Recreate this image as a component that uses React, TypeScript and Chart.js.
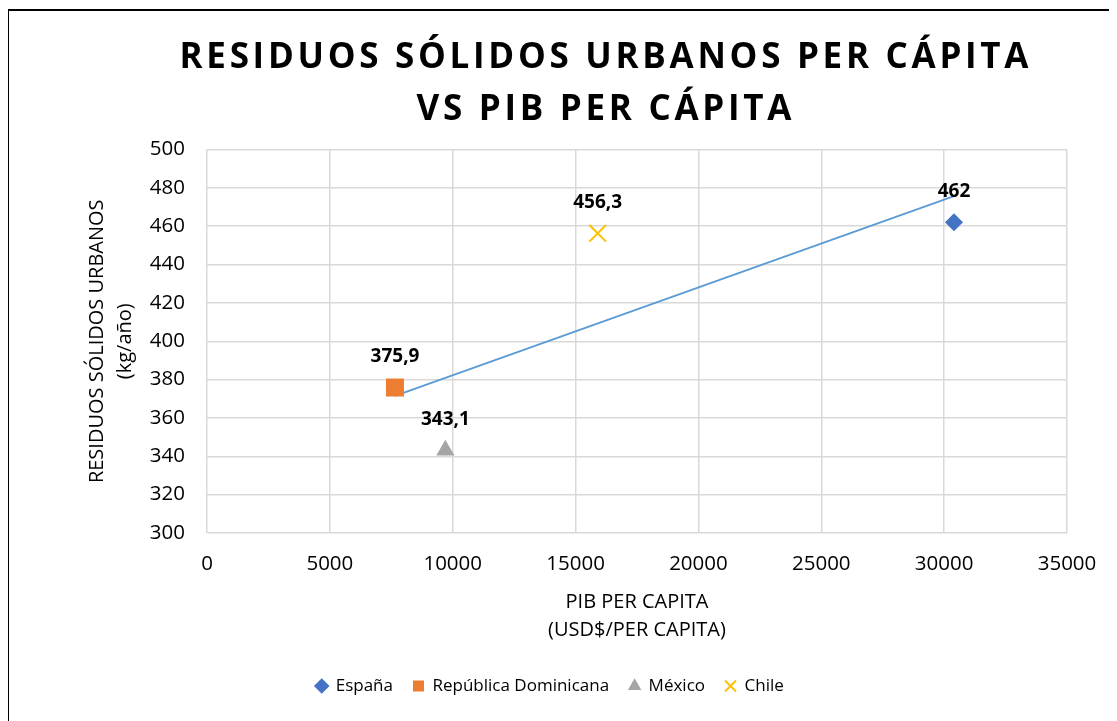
import React, { useEffect, useRef } from "react";
import { Chart, registerables } from "chart.js";

Chart.register(...registerables);

// ---- data ----
const countries = ["España", "República Dominicana", "México", "Chile"];
const pibPerCapita = [30400, 7650, 9700, 15900];
const residuosPerCapita = [462, 375.9, 343.1, 456.3];
const seriesColors = ["#4472C4", "#ED7D31", "#A5A5A5", "#FFC000"];
const seriesPointStyles = ["rectRot", "rect", "triangle", "crossRot"];
const seriesPointRadii = [9, 12.7, 10.5, 11.8];

const xTicks = [0, 5000, 10000, 15000, 20000, 25000, 30000, 35000];
const yTicks = [300, 320, 340, 360, 380, 400, 420, 440, 460, 480, 500];

const titleLines = ["RESIDUOS SÓLIDOS URBANOS PER CÁPITA", "VS PIB PER CÁPITA"];
const xAxisTitle = ["PIB PER CAPITA", "(USD$/PER CAPITA)"];
const yAxisTitle = ["RESIDUOS SÓLIDOS URBANOS", "(kg/año)"];

const FONT = "'Open Sans', 'Liberation Sans', sans-serif";

function linearFit(xs: number[], ys: number[]) {
  const n = xs.length;
  const mx = xs.reduce((a, b) => a + b, 0) / n;
  const my = ys.reduce((a, b) => a + b, 0) / n;
  let sxy = 0;
  let sxx = 0;
  for (let i = 0; i < n; i++) {
    sxy += (xs[i] - mx) * (ys[i] - my);
    sxx += (xs[i] - mx) * (xs[i] - mx);
  }
  const slope = sxy / sxx;
  return { slope, intercept: my - slope * mx };
}

const fmt = (v: number) => String(v).replace(".", ",");

const titlePlugin = {
  id: "customTitle",
  afterDraw(chart: any) {
    const ctx = chart.ctx as CanvasRenderingContext2D;
    ctx.save();
    ctx.font = `bold 35px ${FONT}`;
    ctx.fillStyle = "#000";
    ctx.textBaseline = "alphabetic";
    ctx.textAlign = "left";
    (ctx as any).letterSpacing = "0px";
    const targetWidth = 849;
    const centerX = 595;
    const baselines = [57, 109];
    const w0 = ctx.measureText(titleLines[0]).width;
    const n0 = Array.from(titleLines[0]).length;
    const spacing = (targetWidth - w0) / (n0 - 1);
    const widths = titleLines.map(
      (l) => ctx.measureText(l).width + spacing * (Array.from(l).length - 1)
    );
    (ctx as any).letterSpacing = spacing + "px";
    titleLines.forEach((line, i) => {
      ctx.fillText(line, centerX - widths[i] / 2, baselines[i]);
    });
    ctx.restore();
  },
};

const dataLabelPlugin = {
  id: "dataLabels",
  afterDatasetsDraw(chart: any) {
    const ctx = chart.ctx as CanvasRenderingContext2D;
    ctx.save();
    ctx.font = `bold 19px ${FONT}`;
    ctx.fillStyle = "#000";
    ctx.textAlign = "center";
    ctx.textBaseline = "middle";
    countries.forEach((_, i) => {
      const meta = chart.getDatasetMeta(i);
      meta.data.forEach((el: any, j: number) => {
        const v = chart.data.datasets[i].data[j].y;
        ctx.fillText(fmt(v), el.x, el.y - 31);
      });
    });
    ctx.restore();
  },
};

export default function App() {
  const ref = useRef<HTMLCanvasElement | null>(null);

  useEffect(() => {
    document.body.style.overflow = "hidden";
    document.documentElement.style.overflow = "hidden";
    if (!ref.current) return;

    const fit = linearFit(pibPerCapita, residuosPerCapita);
    const minX = Math.min(...pibPerCapita);
    const maxX = Math.max(...pibPerCapita);

    const scatterSets = countries.map((c, i) => ({
      type: "scatter" as const,
      label: c,
      data: [{ x: pibPerCapita[i], y: residuosPerCapita[i] }],
      pointStyle: seriesPointStyles[i] as any,
      pointRadius: seriesPointRadii[i],
      pointHoverRadius: seriesPointRadii[i],
      backgroundColor: seriesColors[i],
      borderColor: seriesColors[i],
      borderWidth: seriesPointStyles[i] === "crossRot" ? 2 : 0,
    }));

    const trendSet = {
      type: "scatter" as const,
      label: "Lineal",
      data: [
        { x: minX, y: fit.intercept + fit.slope * minX },
        { x: maxX, y: fit.intercept + fit.slope * maxX },
      ],
      showLine: true,
      pointRadius: 0,
      borderColor: "#5B9BD5",
      backgroundColor: "#5B9BD5",
      borderWidth: 1.75,
    };

    const chart = new Chart(ref.current, {
      type: "scatter",
      data: { datasets: [...scatterSets, trendSet] as any },
      plugins: [titlePlugin, dataLabelPlugin],
      options: {
        responsive: false,
        animation: false,
        devicePixelRatio: 1,
        layout: { padding: { top: 138.5, right: 62, bottom: 18.5, left: 24 } },
        plugins: {
          title: { display: false },
          tooltip: { enabled: false },
          legend: {
            position: "bottom",
            labels: {
              usePointStyle: true,
              boxWidth: 11,
              boxHeight: 11,
              padding: 20,
              color: "#000",
              font: { family: FONT, size: 17 },
              filter: (item: any) => item.datasetIndex < countries.length,
            },
          },
        },
        scales: {
          x: {
            type: "linear",
            min: xTicks[0],
            max: xTicks[xTicks.length - 1],
            afterFit: (s: any) => {
              s.height = 124.5;
            },
            ticks: {
              stepSize: xTicks[1] - xTicks[0],
              color: "#000",
              padding: 18.5,
              font: { family: FONT, size: 20.5 },
              callback: (v: any) => String(v),
            },
            grid: { color: "#D9D9D9", lineWidth: 1.5, drawTicks: false },
            border: { display: false },
            title: {
              display: true,
              text: xAxisTitle,
              color: "#000",
              font: { family: FONT, size: 20, lineHeight: 1.4 },
              padding: { top: 0, bottom: 13.5 },
            },
          },
          y: {
            type: "linear",
            min: yTicks[0],
            max: yTicks[yTicks.length - 1],
            afterFit: (s: any) => {
              s.width = 174;
            },
            ticks: {
              stepSize: yTicks[1] - yTicks[0],
              color: "#000",
              padding: 22,
              font: { family: FONT, size: 20.5 },
              callback: (v: any) => String(v),
            },
            grid: { color: "#D9D9D9", lineWidth: 1.5, drawTicks: false },
            border: { display: false },
            title: {
              display: true,
              text: yAxisTitle,
              color: "#000",
              font: { family: FONT, size: 20, lineHeight: 1.4 },
              padding: { top: 50, bottom: 0 },
            },
          },
        },
      } as any,
    });
    return () => chart.destroy();
  }, []);

  return (
    <div
      style={{
        width: 1120,
        height: 712,
        border: "2px solid #000",
        marginLeft: -1,
        marginTop: 1,
        background: "#fff",
      }}
    >
      <canvas ref={ref} width={1120} height={712} style={{ display: "block" }} />
    </div>
  );
}
